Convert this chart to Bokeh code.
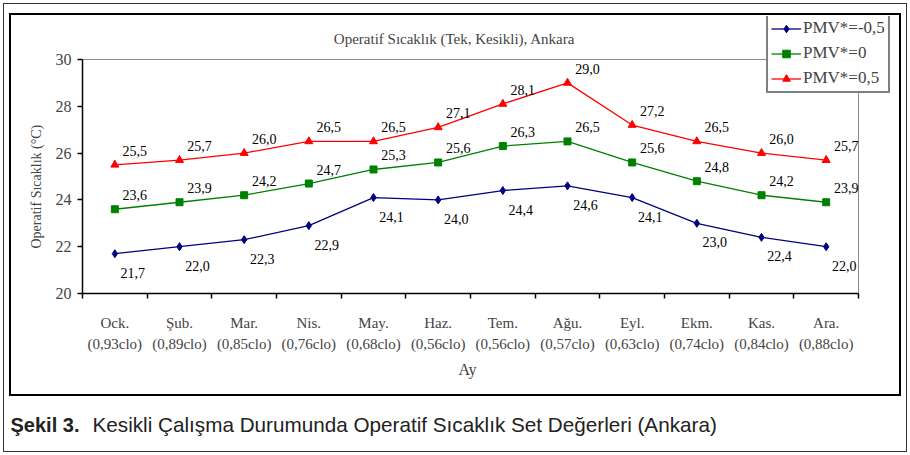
from bokeh.plotting import figure
from bokeh.layouts import column, row
from bokeh.models import (Range1d, FixedTicker, LinearAxis, Label, LabelSet, Title,
                          ColumnDataSource, Legend, LegendItem)
from bokeh.embed import file_html
from bokeh.resources import INLINE

months = ["Ock.", "Şub.", "Mar.", "Nis.", "May.", "Haz.", "Tem.", "Ağu.", "Eyl.", "Ekm.", "Kas.", "Ara."]
clo = ["(0,93clo)", "(0,89clo)", "(0,85clo)", "(0,76clo)", "(0,68clo)", "(0,56clo)",
       "(0,56clo)", "(0,57clo)", "(0,63clo)", "(0,74clo)", "(0,84clo)", "(0,88clo)"]
pmv_m05 = [21.7, 22.0, 22.3, 22.9, 24.1, 24.0, 24.4, 24.6, 24.1, 23.0, 22.4, 22.0]
pmv_0 = [23.6, 23.9, 24.2, 24.7, 25.3, 25.6, 26.3, 26.5, 25.6, 24.8, 24.2, 23.9]
pmv_05 = [25.5, 25.7, 26.0, 26.5, 26.5, 27.1, 28.1, 29.0, 27.2, 26.5, 26.0, 25.7]
y_ticks = [20, 22, 24, 26, 28, 30]

SERIF = "Liberation Serif"
SANS = "Liberation Sans"

n = len(months)
xs = [i + 0.5 for i in range(n)]
ymin, ymax = y_ticks[0], y_ticks[-1]

# layout geometry (pixels)
P_W, P_H = 892, 383
B_LEFT, B_RIGHT, B_TOP, B_BOTTOM = 71, 6, 1, 105
PLOT_W = 776          # width of the 12 categories
PLOT_H = 234          # height of 20..30
FRAME_W = 815
FRAME_H = 277
x_end = n * FRAME_W / PLOT_W
y_end = ymin + (ymax - ymin) * FRAME_H / PLOT_H

p = figure(title=None, output_backend="svg", toolbar_location=None,
           width=P_W, height=P_H,
           x_range=Range1d(0, x_end), y_range=Range1d(ymin, y_end),
           min_border_left=B_LEFT, min_border_right=B_RIGHT,
           min_border_top=B_TOP, min_border_bottom=B_BOTTOM,
           x_axis_type=None, y_axis_type=None)
p.xgrid.visible = False
p.ygrid.visible = False
p.outline_line_color = None
p.background_fill_color = "white"
p.border_fill_color = "white"
p.styles = {"border": "2px solid black"}

# y axis
yax = LinearAxis(ticker=FixedTicker(ticks=y_ticks), bounds=(ymin, ymax))
yax.major_label_overrides = {t: str(t) for t in y_ticks}
yax.major_tick_out = 5
yax.major_tick_in = 0
yax.minor_tick_out = 0
yax.minor_tick_in = 0
yax.axis_line_color = "black"
yax.axis_line_width = 1.5
yax.major_tick_line_width = 1.5
yax.major_label_text_font = SERIF
yax.major_label_text_font_size = "16px"
yax.major_label_standoff = 6
p.add_layout(yax, "left")

p.add_layout(Title(text="Operatif Sıcaklık (°C)", align="left", offset=45, standoff=18,
                   text_font=SERIF, text_font_size="14px", text_font_style="normal"), "left")

# x axis: month names, ticks between categories
xax = LinearAxis(ticker=FixedTicker(ticks=xs, minor_ticks=list(range(n + 1))), bounds=(0, n))
xax.major_label_overrides = {x: m for x, m in zip(xs, months)}
xax.major_tick_out = 0
xax.major_tick_in = 0
xax.minor_tick_out = 5
xax.minor_tick_in = 0
xax.minor_tick_line_width = 1.5
xax.axis_line_color = "black"
xax.axis_line_width = 1.5
xax.major_label_text_font = SERIF
xax.major_label_text_font_size = "15px"
xax.major_label_standoff = 16
p.add_layout(xax, "below")

xax2 = LinearAxis(ticker=FixedTicker(ticks=xs))
xax2.major_label_overrides = {x: c for x, c in zip(xs, clo)}
xax2.major_tick_out = 0
xax2.major_tick_in = 0
xax2.minor_tick_out = 0
xax2.axis_line_color = None
xax2.major_label_text_font = SERIF
xax2.major_label_text_font_size = "15px"
xax2.major_label_standoff = 2
p.add_layout(xax2, "below")

p.add_layout(Title(text="Ay", align="left", offset=376, standoff=8,
                   text_font=SERIF, text_font_size="16px", text_font_style="normal"), "below")

# plot-area border (grey, top and right)
p.line([0, n, n], [ymax, ymax, ymin], line_color="#8a8a8a", line_width=1)

series = [
    ("PMV*=-0,5", pmv_m05, "#000080", "diamond", 8, 18, 19),
    ("PMV*=0", pmv_0, "#008000", "square", 7, 20, -14),
    ("PMV*=0,5", pmv_05, "#ff0000", "triangle", 8, 20, -14),
]
items = []
for name, vals, color, marker, size, xo, yo in series:
    src = ColumnDataSource(dict(x=xs, y=vals, lab=[f"{v:.1f}".replace(".", ",") for v in vals]))
    r1 = p.line("x", "y", source=src, line_color=color, line_width=1.3)
    r2 = p.scatter("x", "y", source=src, marker=marker, size=size, fill_color=color, line_color=color)
    items.append(LegendItem(label=name, renderers=[r1, r2]))
    p.add_layout(LabelSet(x="x", y="y", text="lab", source=src, x_offset=xo, y_offset=-yo,
                          text_align="center", text_baseline="middle",
                          text_font=SERIF, text_font_size="14px", text_color="black"))

leg = Legend(items=items, location=(684, 200))
leg.border_line_color = "black"
leg.border_line_width = 2
leg.background_fill_color = "white"
leg.label_text_font = SERIF
leg.label_text_font_size = "17px"
leg.glyph_width = 30
leg.glyph_height = 19
leg.label_height = 19
leg.spacing = 5
leg.padding = 3
leg.margin = 0
leg.label_standoff = 2
p.add_layout(leg, "center")

# chart title inside the chart box
title_y = ymax + (ymax - ymin) * 21 / PLOT_H
p.add_layout(Label(x=n * 372 / PLOT_W, y=title_y,
                   text="Operatif Sıcaklık (Tek, Kesikli), Ankara",
                   text_align="center", text_baseline="middle",
                   text_font=SERIF, text_font_size="15px"))

# caption figure
CAP_W, CAP_H = 892, 55
cap = figure(title=None, width=CAP_W, height=CAP_H, output_backend="svg",
             toolbar_location=None,
             x_range=Range1d(0, CAP_W), y_range=Range1d(CAP_H, 0),
             min_border_left=0, min_border_right=0, min_border_top=0, min_border_bottom=0,
             x_axis_type=None, y_axis_type=None)
cap.xgrid.visible = False
cap.ygrid.visible = False
cap.outline_line_color = None
cap.add_layout(Label(x=1, y=28, text="Şekil 3.", text_align="left", text_baseline="middle",
                     text_font=SANS, text_font_size="20px", text_font_style="bold",
                     text_color="#222222"))
cap.add_layout(Label(x=83, y=28,
                     text="Kesikli Çalışma Durumunda Operatif Sıcaklık Set Değerleri (Ankara)",
                     text_align="left", text_baseline="middle", text_font=SANS,
                     text_font_size="20.7px", text_color="#222222"))

page = column(p, row(cap), spacing=0,
              styles={"border": "1px solid #333333", "padding": "9px 5px 0px 5px",
                      "margin-left": "3px", "margin-top": "3px", "background": "white"})

open("out.html", "w").write(file_html(page, INLINE))
